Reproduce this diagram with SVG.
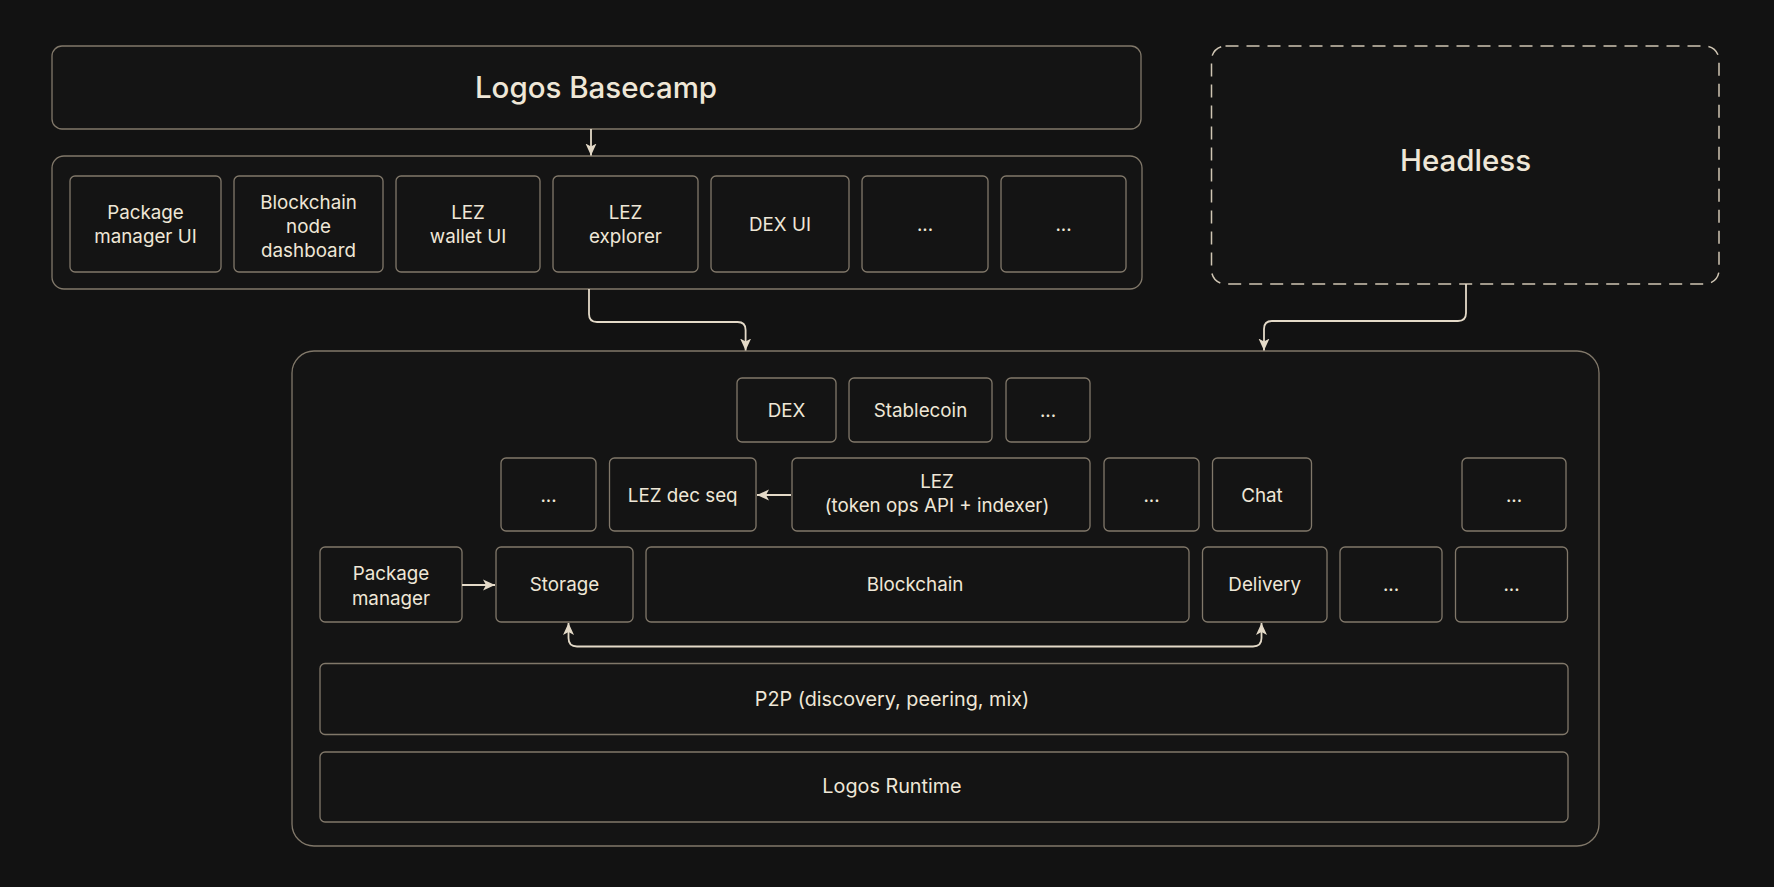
<svg xmlns="http://www.w3.org/2000/svg" width="1774" height="887" viewBox="0 0 1774 887">
<defs>
<style>
.bg{fill:#121212}
.box{fill:#141414;stroke:#81786a;stroke-width:1.3}
.dash{fill:#141414;stroke:#cfc5b3;stroke-width:1.5;stroke-dasharray:13 8}
.t{font-family:Inter,"Noto Sans","Liberation Sans",sans-serif;font-size:18.8px;fill:#efe7d7;text-anchor:middle}
.big{font-size:29.5px;font-weight:500}
.wide{font-size:19.8px}
.c{fill:none;stroke:#e4dac8;stroke-width:1.8}
</style>
<marker id="ah" viewBox="0 0 12 12" refX="12" refY="6" markerWidth="12" markerHeight="12" markerUnits="userSpaceOnUse" orient="auto-start-reverse">
<path d="M0,0.5 L12,6 L0,11.5 L3,6 Z" fill="#e4dac8"/>
</marker>
</defs>
<rect class="bg" x="0" y="0" width="1774" height="887"/>

<g id="basecamp">
<rect class="box" x="52" y="46" width="1089" height="83" rx="10"/>
<text class="t big" x="596" y="98">Logos Basecamp</text>
</g>
<g id="ui-row">
<rect class="box" x="52" y="156" width="1090" height="133" rx="12"/>
</g>
<g id="pkg-ui"><rect class="box" x="70" y="176" width="151" height="96" rx="5"/><text class="t" x="145.5" y="218.5">Package</text><text class="t" x="145.5" y="242.5">manager UI</text></g>
<g id="bc-dash"><rect class="box" x="234" y="176" width="149" height="96" rx="5"/><text class="t" x="308.5" y="208.5">Blockchain</text><text class="t" x="308.5" y="232.5">node</text><text class="t" x="308.5" y="256.5">dashboard</text></g>
<g id="lez-wallet"><rect class="box" x="396" y="176" width="144" height="96" rx="5"/><text class="t" x="468" y="218.5">LEZ</text><text class="t" x="468" y="242.5">wallet UI</text></g>
<g id="lez-explorer"><rect class="box" x="553" y="176" width="145" height="96" rx="5"/><text class="t" x="625.5" y="218.5">LEZ</text><text class="t" x="625.5" y="242.5">explorer</text></g>
<g id="dex-ui"><rect class="box" x="711" y="176" width="138" height="96" rx="5"/><text class="t" x="780" y="230.5">DEX UI</text></g>
<g id="ui-more1"><rect class="box" x="862" y="176" width="126" height="96" rx="5"/><text class="t" x="925" y="230.5">...</text></g>
<g id="ui-more2"><rect class="box" x="1001" y="176" width="125" height="96" rx="5"/><text class="t" x="1063.5" y="230.5">...</text></g>

<g id="headless">
<rect class="dash" x="1211.5" y="46" width="507.5" height="238" rx="14"/>
<text class="t big" x="1465.5" y="171">Headless</text>
</g>

<g id="core">
<rect class="box" x="292" y="351" width="1307" height="495" rx="22"/>
</g>
<g id="dex"><rect class="box" x="737" y="378" width="99" height="64" rx="5"/><text class="t" x="786.5" y="416.5">DEX</text></g>
<g id="stablecoin"><rect class="box" x="849" y="378" width="143" height="64" rx="5"/><text class="t" x="920.5" y="416.5">Stablecoin</text></g>
<g id="app-more"><rect class="box" x="1006" y="378" width="84" height="64" rx="5"/><text class="t" x="1048" y="416.5">...</text></g>

<g id="r2-more1"><rect class="box" x="501" y="458" width="95" height="73" rx="5"/><text class="t" x="548.5" y="501.5">...</text></g>
<g id="lez-decseq"><rect class="box" x="609.5" y="458" width="146.5" height="73" rx="5"/><text class="t" x="682.7" y="501.5">LEZ dec seq</text></g>
<g id="lez"><rect class="box" x="792" y="458" width="298" height="73" rx="5"/><text class="t" x="937" y="487.5">LEZ</text><text class="t" x="937" y="511.5">(token ops API + indexer)</text></g>
<g id="r2-more2"><rect class="box" x="1104" y="458" width="95" height="73" rx="5"/><text class="t" x="1151.5" y="501.5">...</text></g>
<g id="chat"><rect class="box" x="1212.5" y="458" width="99" height="73" rx="5"/><text class="t" x="1262" y="501.5">Chat</text></g>
<g id="r2-more3"><rect class="box" x="1462" y="458" width="104" height="73" rx="5"/><text class="t" x="1514" y="501.5">...</text></g>

<g id="pkg-mgr"><rect class="box" x="320" y="547" width="142" height="75" rx="5"/><text class="t" x="391" y="580">Package</text><text class="t" x="391" y="604.5">manager</text></g>
<g id="storage"><rect class="box" x="496" y="547" width="137" height="75" rx="5"/><text class="t" x="564.5" y="591">Storage</text></g>
<g id="blockchain"><rect class="box" x="646" y="547" width="543" height="75" rx="5"/><text class="t" x="915" y="591">Blockchain</text></g>
<g id="delivery"><rect class="box" x="1202.5" y="547" width="124.5" height="75" rx="5"/><text class="t" x="1264.7" y="591">Delivery</text></g>
<g id="r3-more1"><rect class="box" x="1340" y="547" width="102" height="75" rx="5"/><text class="t" x="1391" y="591">...</text></g>
<g id="r3-more2"><rect class="box" x="1455.5" y="547" width="112" height="75" rx="5"/><text class="t" x="1511.5" y="591">...</text></g>

<g id="p2p"><rect class="box" x="320" y="663.5" width="1248" height="71" rx="5"/><text class="t wide" x="892" y="706">P2P (discovery, peering, mix)</text></g>
<g id="runtime"><rect class="box" x="320" y="752" width="1248" height="70" rx="5"/><text class="t wide" x="892" y="793">Logos Runtime</text></g>

<g id="connectors">
<path class="c" d="M591,129 V155.5" marker-end="url(#ah)"/>
<path class="c" d="M589,289 V314 Q589,322 597,322 H737.6 Q745.6,322 745.6,330 V350.5" marker-end="url(#ah)"/>
<path class="c" d="M1466,284 V313 Q1466,321 1458,321 H1272 Q1264,321 1264,329 V350.5" marker-end="url(#ah)"/>
<path class="c" d="M791,495 H757" marker-end="url(#ah)"/>
<path class="c" d="M462,585 H495" marker-end="url(#ah)"/>
<path class="c" d="M568.5,623 V638 Q568.5,646.5 577,646.5 H1253 Q1261.5,646.5 1261.5,638 V623" marker-start="url(#ah)" marker-end="url(#ah)"/>
</g>
</svg>
